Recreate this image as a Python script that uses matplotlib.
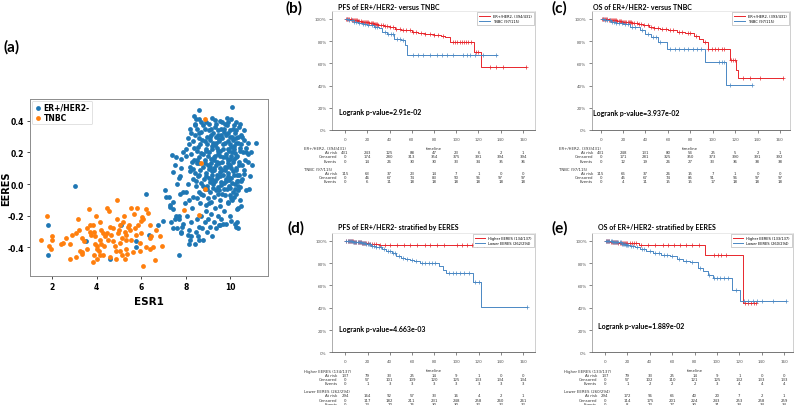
import numpy as np
import matplotlib
matplotlib.use("Agg")
import matplotlib.pyplot as plt

# ---------------- panel (a) : EERES vs ESR1 ----------------
er_pts = [
    # sparse points on the left
    (1.82, -0.26), (1.82, -0.45), (3.02, -0.01), (3.51, -0.36), (4.59, -0.47), (5.10, -0.26),
    (5.78, -0.36), (5.78, -0.40), (6.23, -0.06), (6.35, -0.32), (7.68, -0.45),
    # lower / outer fringe of the cluster
    (7.05, -0.04), (7.13, -0.08), (7.43, -0.11), (7.55, -0.20), (7.72, -0.22), (7.84, -0.27),
    (7.28, -0.145), (6.98, -0.23), (6.75, -0.26), (7.43, -0.28), (7.80, -0.31), (8.17, -0.38),
    (8.25, -0.33), (8.62, -0.35), (8.17, -0.29), (9.52, -0.26), (9.67, -0.25), (10.27, -0.27),
    (10.30, -0.24), (10.34, -0.15), (10.04, -0.23), (9.97, -0.07), (10.19, -0.08), (10.71, -0.04),
    (10.83, -0.03), (11.00, 0.12), (11.16, 0.26), (10.79, 0.26), (10.71, 0.20), (10.79, 0.14),
    (10.64, 0.065), (10.49, 0.02), (7.40, 0.185), (7.43, 0.075), (7.72, 0.04), (7.87, -0.05),
    (7.80, 0.16), (8.02, 0.22), (8.17, 0.255), (8.25, 0.32), (8.40, 0.37), (8.47, 0.41),
    (8.37, 0.43), (8.62, 0.47), (10.07, 0.486),
    (7.25, -0.08), (7.30, -0.13), (7.45, -0.16), (7.50, -0.22), (7.35, -0.24), (7.60, -0.28),
    (7.70, -0.20), (7.80, -0.30), (7.90, -0.25), (7.95, -0.12), (8.00, -0.05), (8.05, -0.20),
    (8.10, -0.32), (8.20, -0.35), (8.25, -0.24), (8.30, -0.15), (8.35, -0.08), (8.40, -0.38),
    (8.45, -0.30), (8.50, -0.22), (8.55, -0.33), (8.60, -0.27), (8.65, -0.12), (8.70, -0.20),
    (8.75, -0.28), (8.80, -0.35), (8.85, -0.24), (8.90, -0.17), (8.95, -0.30), (9.00, -0.22),
    (9.05, -0.12), (9.10, -0.27), (9.15, -0.19), (9.20, -0.33), (9.25, -0.24), (9.30, -0.15),
    (9.35, -0.28), (9.45, -0.20), (9.50, -0.26), (9.55, -0.14), (9.60, -0.22), (9.70, -0.17),
    (9.80, -0.25), (9.90, -0.12), (10.00, -0.20), (10.10, -0.10), (10.20, -0.25), (10.30, -0.16),
    (10.35, -0.28), (10.50, -0.14), (7.55, 0.17), (7.50, 0.12), (7.75, 0.05), (7.80, 0.10),
    (8.00, 0.18), (7.90, 0.20), (8.10, 0.00), (8.20, 0.08), (8.30, 0.14), (7.60, 0.00),
    (7.75, -0.06), (8.15, -0.10), (8.10, 0.29), (8.20, 0.35), (10.90, 0.05), (10.95, 0.20),
    # dense core
    (8.62, 0.41), (8.93, 0.39), (9.18, 0.42), (9.52, 0.40), (9.77, 0.38), (10.02, 0.41), (10.28, 0.39), (8.42, 0.38),
    (8.52, 0.35), (8.78, 0.37), (9.03, 0.34), (9.31, 0.36), (9.58, 0.35), (9.86, 0.37), (10.12, 0.35), (10.38, 0.36), (10.60, 0.34),
    (8.44, 0.31), (8.71, 0.33), (8.96, 0.30), (9.22, 0.32), (9.46, 0.31), (9.71, 0.33), (9.97, 0.30), (10.21, 0.32), (10.47, 0.31),
    (8.31, 0.27), (8.58, 0.29), (8.86, 0.27), (9.11, 0.28), (9.36, 0.26), (9.62, 0.29), (9.88, 0.27), (10.11, 0.28), (10.37, 0.26), (10.62, 0.28),
    (8.38, 0.23), (8.66, 0.25), (8.92, 0.22), (9.16, 0.24), (9.42, 0.23), (9.67, 0.25), (9.91, 0.22), (10.16, 0.24), (10.42, 0.23),
    (8.24, 0.19), (8.52, 0.21), (8.79, 0.19), (9.06, 0.20), (9.31, 0.18), (9.56, 0.21), (9.81, 0.19), (10.06, 0.20), (10.29, 0.18), (10.56, 0.20),
    (8.36, 0.15), (8.61, 0.17), (8.88, 0.15), (9.14, 0.16), (9.41, 0.14), (9.66, 0.17), (9.92, 0.15), (10.17, 0.16), (10.41, 0.14),
    (8.21, 0.11), (8.49, 0.13), (8.76, 0.11), (9.01, 0.12), (9.26, 0.10), (9.51, 0.13), (9.76, 0.11), (10.01, 0.12), (10.26, 0.10), (10.52, 0.12),
    (8.41, 0.07), (8.66, 0.09), (8.91, 0.07), (9.16, 0.08), (9.39, 0.06), (9.64, 0.09), (9.89, 0.07), (10.14, 0.08), (10.39, 0.06),
    (8.31, 0.03), (8.56, 0.05), (8.81, 0.03), (9.04, 0.04), (9.29, 0.02), (9.54, 0.05), (9.79, 0.03), (10.04, 0.04), (10.31, 0.02),
    (8.46, -0.01), (8.71, 0.01), (8.97, -0.01), (9.21, 0.00), (9.46, -0.02), (9.71, 0.01), (9.96, -0.01), (10.21, 0.00), (10.44, -0.02),
    (8.61, -0.05), (8.86, -0.03), (9.11, -0.05), (9.36, -0.04), (9.61, -0.06), (9.86, -0.03), (10.11, -0.05), (10.36, -0.04),
    (8.52, -0.09), (8.77, -0.07), (9.02, -0.09), (9.27, -0.08), (9.52, -0.10), (9.77, -0.07), (10.02, -0.09),
    (9.05, 0.38), (9.35, 0.38), (9.65, 0.39), (9.92, 0.39), (10.15, 0.37),
    (8.85, 0.345), (9.12, 0.35), (9.45, 0.34), (9.72, 0.35), (9.98, 0.34), (10.25, 0.34),
    (9.08, 0.30), (9.34, 0.30), (9.58, 0.31), (9.83, 0.31), (10.08, 0.30), (10.33, 0.30),
    (8.98, 0.255), (9.24, 0.26), (9.49, 0.27), (9.75, 0.26), (10.00, 0.25), (10.26, 0.26), (10.50, 0.25),
    (8.92, 0.21), (9.18, 0.22), (9.43, 0.21), (9.69, 0.22), (9.94, 0.21), (10.18, 0.22), (10.44, 0.21),
    (9.02, 0.175), (9.27, 0.17), (9.53, 0.18), (9.79, 0.17), (10.04, 0.18), (10.28, 0.17),
    (8.62, 0.13), (8.89, 0.13), (9.14, 0.135), (9.38, 0.12), (9.63, 0.14), (9.88, 0.13), (10.13, 0.14), (10.38, 0.12),
    (9.03, 0.095), (9.28, 0.09), (9.52, 0.10), (9.77, 0.09), (10.02, 0.10), (10.27, 0.09),
    (8.93, 0.05), (9.17, 0.055), (9.42, 0.04), (9.67, 0.06), (9.92, 0.05), (10.17, 0.055),
    (9.08, 0.015), (9.33, 0.02), (9.58, 0.015), (9.83, 0.02), (10.08, 0.01), (10.33, 0.02),
    (8.98, -0.03), (9.23, -0.025), (9.48, -0.035), (9.73, -0.03), (9.98, -0.025), (10.23, -0.03),
    (8.70, 0.395), (9.30, 0.405), (9.85, 0.42), (10.45, 0.38), (8.60, 0.325), (9.15, 0.31),
    (9.90, 0.325), (10.55, 0.30), (8.75, 0.28), (9.50, 0.285), (10.25, 0.29), (8.55, 0.235),
    (9.30, 0.245), (10.05, 0.235), (10.70, 0.23), (8.70, 0.195), (9.45, 0.19), (10.20, 0.195),
    (10.80, 0.19), (8.50, 0.155), (9.25, 0.15), (10.00, 0.16), (10.65, 0.15), (8.35, 0.095),
    (9.10, 0.105), (9.85, 0.11), (10.60, 0.09), (8.60, 0.06), (9.55, 0.075), (10.30, 0.06),
    (8.45, 0.02), (9.20, 0.03), (9.95, 0.025), (10.55, 0.03), (8.80, -0.015), (9.60, -0.005),
    (10.35, -0.01), (8.70, -0.06), (9.45, -0.065), (10.25, -0.065), (9.15, -0.11), (9.90, -0.11),
    (8.90, -0.13), (10.45, -0.10),
]

tnbc_pts = [
    (1.48, -0.35), (1.75, -0.20), (1.97, -0.33), (1.85, -0.39), (1.93, -0.41), (2.00, -0.35),
    (2.49, -0.37), (2.60, -0.34), (2.79, -0.38), (2.91, -0.32), (2.79, -0.47), (3.09, -0.46),
    (3.06, -0.31), (3.21, -0.29), (3.32, -0.43), (3.36, -0.44), (3.57, -0.28), (3.66, -0.16),
    (3.69, -0.26), (3.72, -0.32), (3.84, -0.26), (3.88, -0.30), (3.91, -0.33), (3.94, -0.38),
    (3.99, -0.41), (3.96, -0.20), (4.02, -0.39), (4.11, -0.42), (4.14, -0.35), (4.21, -0.29),
    (4.14, -0.24), (4.29, -0.31), (4.32, -0.39), (3.81, -0.49), (3.99, -0.47), (4.14, -0.45),
    (4.26, -0.45), (4.44, -0.31), (4.51, -0.35), (4.54, -0.17), (4.59, -0.27), (4.66, -0.32),
    (4.71, -0.36), (4.74, -0.28), (4.81, -0.39), (4.86, -0.42), (4.92, -0.10), (4.93, -0.22),
    (4.96, -0.31), (5.00, -0.29), (5.03, -0.26), (5.06, -0.37), (5.12, -0.34), (5.18, -0.24),
    (5.21, -0.20), (5.26, -0.30), (5.30, -0.35), (5.33, -0.32), (5.36, -0.44), (5.41, -0.27),
    (5.45, -0.26), (5.51, -0.29), (5.56, -0.35), (5.63, -0.43), (5.71, -0.28), (5.78, -0.32),
    (5.81, -0.15), (5.86, -0.26), (5.93, -0.37), (5.15, -0.45), (5.26, -0.47), (4.86, -0.47),
    (4.59, -0.46), (5.03, -0.42), (6.01, -0.31), (6.08, -0.22), (5.33, -0.41), (6.23, -0.16),
    (6.30, -0.18), (6.38, -0.26), (6.38, -0.34), (6.41, -0.41), (6.23, -0.40), (5.96, -0.42),
    (6.01, -0.23), (6.45, -0.33), (6.53, -0.40), (6.68, -0.29), (6.62, -0.48), (6.83, -0.33),
    (6.95, -0.39), (6.08, -0.52), (6.05, -0.21), (5.66, -0.19), (5.56, -0.15), (3.69, -0.30),
    (3.57, -0.41), (3.88, -0.45), (4.21, -0.38), (4.36, -0.33), (3.32, -0.34), (3.42, -0.36),
    (3.24, -0.42), (2.39, -0.38), (3.14, -0.22), (4.44, -0.15),
    (8.88, 0.41), (8.68, 0.135), (8.88, -0.034), (7.92, -0.166), (8.59, -0.194),
]

# ---------------- Kaplan-Meier curves (time in months, survival) ----------------
b_er_t = [0, 3, 6, 9, 12, 15, 18, 22, 26, 30, 35, 40, 45, 50, 55, 60, 66, 72, 80, 86, 90, 94, 116, 122]
b_er_s = [1.0, 0.995, 0.99, 0.985, 0.98, 0.975, 0.97, 0.96, 0.955, 0.945, 0.935, 0.925, 0.91, 0.90,
          0.895, 0.885, 0.875, 0.865, 0.855, 0.845, 0.835, 0.79, 0.705, 0.565]
b_er_end = 163
b_er_cens = [1, 2, 3, 4, 5, 6, 7, 8, 9, 10, 11, 12, 13, 14, 15, 16, 17, 18, 19, 20, 21, 22, 23, 24, 25,
             26, 27, 28, 29, 30, 32, 34, 36, 38, 40, 43, 46, 49, 52, 55, 58, 61, 64, 68, 72, 76, 80, 84,
             88, 97, 99, 101, 103, 105, 107, 109, 111, 113, 118, 120, 130, 136, 142, 163]
b_tn_t = [0, 4, 8, 12, 16, 20, 26, 31, 33, 38, 44, 50, 54, 56]
b_tn_s = [1.0, 0.985, 0.975, 0.965, 0.955, 0.94, 0.93, 0.915, 0.885, 0.86, 0.82, 0.81, 0.765, 0.67]
b_tn_end = 137
b_tn_cens = [2, 4, 6, 8, 10, 13, 16, 18, 21, 24, 27, 29, 36, 39, 41, 43, 47, 49, 52, 61, 66, 70.5,
             76.5, 82.5, 87, 91.5, 97.5, 106.5, 109.5, 112.5, 117, 124, 136]

c_er_t = [0, 3, 7, 11, 15, 19, 23, 28, 33, 38, 43, 48, 53, 60, 68, 75, 83, 88, 91, 96, 115, 121, 123]
c_er_s = [1.0, 0.995, 0.99, 0.985, 0.98, 0.975, 0.968, 0.96, 0.95, 0.94, 0.93, 0.915, 0.905, 0.895,
          0.885, 0.87, 0.845, 0.82, 0.79, 0.73, 0.627, 0.537, 0.47]
c_er_end = 163
c_er_cens = [1, 2, 3, 4, 5, 6, 7, 8, 9, 10, 11, 12, 13, 14, 15, 16, 17, 18, 19, 20, 21, 22, 23, 24, 25,
             26, 27, 28, 30, 32, 34, 36, 39, 42, 45, 48, 51, 55, 58, 62, 65, 70, 73, 78, 80, 85, 93,
             96, 99, 102, 105, 108, 110, 116, 118, 120, 127, 133, 142, 163]
c_tn_t = [0, 4, 9, 14, 20, 26, 35, 40, 45, 51, 59, 93, 112]
c_tn_s = [1.0, 0.985, 0.975, 0.965, 0.95, 0.925, 0.895, 0.86, 0.84, 0.79, 0.73, 0.61, 0.405]
c_tn_end = 135
c_tn_cens = [2, 4, 6, 8, 10, 12, 14, 16, 19, 22, 24, 28, 31, 37, 42, 47, 49, 53, 62, 66, 70, 74, 78,
             82, 86, 90, 106, 108, 110, 115, 135]

d_hi_t = [0, 8, 15, 22, 30]
d_hi_s = [1.0, 0.99, 0.98, 0.97, 0.963]
d_hi_end = 125
d_hi_cens = [1, 2, 3, 4, 5, 6, 7, 8, 9, 10, 11, 12, 13, 14, 15, 16, 17, 18, 19, 20, 22, 24, 26, 28,
             31.5, 36, 40.5, 46.5, 52.5, 58.5, 64.5, 72, 76.5, 82.5, 88.5, 100.5, 105, 109.5, 114,
             118.5, 125]
d_lo_t = [0, 3, 7, 11, 15, 19, 23, 28, 33, 37, 42, 46, 50, 54, 58, 62, 67, 84, 88, 91, 115, 122]
d_lo_s = [1.0, 0.995, 0.99, 0.985, 0.978, 0.97, 0.955, 0.94, 0.924, 0.905, 0.89, 0.865, 0.85, 0.84,
          0.825, 0.815, 0.803, 0.773, 0.736, 0.712, 0.627, 0.41]
d_lo_end = 164
d_lo_cens = [1, 2, 3, 4, 5, 6, 7, 8, 9, 10, 11, 12, 13, 14, 15, 16, 17, 18, 19, 20, 21, 22, 24, 26,
             28, 30, 32, 35, 38, 40, 43, 45, 48, 52, 56, 60, 64, 69, 72, 75, 78, 81, 93, 97, 100,
             103, 107, 111, 117, 120, 164]

e_hi_t = [0, 5, 12, 20, 30, 89, 123.5]
e_hi_s = [1.0, 0.99, 0.982, 0.976, 0.966, 0.873, 0.44]
e_hi_end = 135
e_hi_cens = [1, 2, 3, 4, 5, 6, 7, 8, 9, 10, 11, 12, 13, 14, 15, 16, 17, 18, 19, 20, 22, 24, 26, 28,
             32, 38, 45, 52, 56, 62, 67, 72, 78, 84, 97, 101, 104, 108, 125, 128, 130, 133, 135]
e_lo_t = [0, 3, 7, 11, 15, 19, 22, 27, 31, 37, 43, 50, 58, 64, 70, 76, 83, 87.5, 92, 96.7, 113, 120.5]
e_lo_s = [1.0, 0.995, 0.99, 0.985, 0.975, 0.965, 0.955, 0.94, 0.93, 0.91, 0.888, 0.875, 0.864,
          0.833, 0.822, 0.812, 0.758, 0.727, 0.697, 0.667, 0.56, 0.46]
e_lo_end = 162
e_lo_cens = [1, 2, 3, 4, 5, 6, 7, 8, 9, 10, 11, 12, 13, 14, 15, 16, 17, 18, 19, 20, 21, 23, 25, 29,
             33, 35, 40, 45, 48, 53, 55, 60, 66, 72, 78, 85, 93, 97, 100, 103, 106, 110, 117, 124,
             128, 132, 136, 140, 150, 162]

# ---------------- at-risk tables ----------------
table_times = [0, 20, 40, 60, 80, 100, 120, 140, 160]

b_groups = ["ER+/HER2- (394/431)", "TNBC (97/115)"]
b_risk = [[431, 243, 125, 88, 47, 23, 6, 2, 1], [115, 63, 37, 23, 14, 7, 1, 0, 0]]
b_cens = [[0, 174, 280, 313, 354, 375, 391, 394, 394], [0, 46, 67, 74, 83, 90, 96, 97, 97]]
b_evt = [[0, 14, 26, 30, 30, 33, 34, 35, 36], [0, 6, 11, 18, 18, 18, 18, 18, 18]]

c_groups = ["ER+/HER2- (393/431)", "TNBC (97/115)"]
c_risk = [[431, 248, 131, 80, 54, 25, 5, 2, 1], [115, 66, 37, 26, 15, 7, 1, 0, 0]]
c_cens = [[0, 171, 281, 325, 350, 373, 390, 391, 392], [0, 45, 67, 74, 85, 91, 96, 97, 97]]
c_evt = [[0, 12, 19, 26, 27, 33, 36, 38, 38], [0, 4, 11, 15, 15, 17, 18, 18, 18]]

d_groups = ["Higher EERES (134/137)", "Lower EERES (262/294)"]
d_risk = [[137, 79, 33, 25, 14, 9, 1, 0, 0], [294, 164, 92, 57, 33, 16, 4, 2, 1]]
d_cens = [[0, 57, 101, 109, 120, 125, 133, 134, 134], [0, 117, 182, 211, 231, 248, 258, 260, 261]]
d_evt = [[0, 1, 3, 3, 3, 3, 3, 3, 3], [0, 13, 20, 26, 30, 30, 32, 32, 32]]

e_groups = ["Higher EERES (133/137)", "Lower EERES (260/294)"]
e_risk = [[137, 79, 33, 25, 14, 9, 1, 0, 0], [294, 172, 96, 66, 40, 20, 7, 2, 1]]
e_cens = [[0, 57, 102, 110, 121, 125, 132, 133, 133], [0, 114, 175, 201, 224, 243, 253, 258, 259]]
e_evt = [[0, 1, 2, 2, 2, 3, 4, 4, 4], [0, 8, 23, 27, 30, 31, 34, 34, 34]]

RED = "#e8262c"
BLUE = "#4a88c4"
W, H = 796, 406
TITLE_FONT = ["Lato", "DejaVu Sans"]


def rect(left, top, right, bottom):
    # pixel box -> figure fraction
    return [left / W, 1 - bottom / H, (right - left) / W, (bottom - top) / H]


def fig_text(fig, x, y, s, **kw):
    fig.text(x / W, 1 - y / H, s, **kw)


def km_curve(ax, t, s, end, cens, color, label):
    t = np.array(t, dtype=float)
    s = np.array(s, dtype=float)
    ax.step(np.r_[t, end], np.r_[s, s[-1]], where="post", color=color, lw=0.7, label=label)
    cens = np.array(cens, dtype=float)
    cs = s[np.searchsorted(t, cens, side="right") - 1]
    ax.plot(cens, cs, "+", color=color, ms=3.2, mew=0.5)


def km_axes(ax, xlim, pval, pxy):
    ax.set_xlim(*xlim)
    ax.set_ylim(0, 1.07)
    ax.set_yticks([0, 0.2, 0.4, 0.6, 0.8, 1.0])
    ax.set_yticklabels(["0%", "20%", "40%", "60%", "80%", "100%"])
    ax.set_xticks(table_times)
    ax.tick_params(labelsize=3, length=2.5, width=0.5, colors="#555555", pad=1.5)
    ax.tick_params(axis="x", pad=2.5)
    ax.spines["top"].set_color("#e6e6e6")
    ax.spines["left"].set_color("#a0a0a0")
    ax.spines["right"].set_color("#c8c8c8")
    ax.spines["bottom"].set_color("#606060")
    for sp in ax.spines.values():
        sp.set_linewidth(0.6)
    ax.text(pxy[0], pxy[1], "Logrank p-value=" + pval, fontsize=5, fontweight="bold",
            family=TITLE_FONT, va="center", ha="left")
    leg = ax.legend(loc="upper right", fontsize=2.6, handlelength=3, borderpad=0.5,
                    borderaxespad=0.4, fancybox=False, edgecolor="#aaaaaa", framealpha=1,
                    labelspacing=0.3)
    leg.get_frame().set_linewidth(0.4)


def km_table(ax, groups, risk, cens, evt):
    tr = ax.get_xaxis_transform()
    h = 119.0  # axes height in px

    def put(x, off, s, ha="center"):
        ax.text(x, -off / h, s, transform=tr, fontsize=2.8, color="#333333",
                ha=ha, va="center", clip_on=False)

    put(80, 17.5, "timeline")
    starts = [18.3, 39.0]
    for g in range(2):
        y0 = starts[g]
        put(-37, y0, groups[g], ha="left")
        rows = [("At risk", risk[g]), ("Censored", cens[g]), ("Events", evt[g])]
        for i, (name, vals) in enumerate(rows):
            off = y0 + 4.0 + 4.2 * i
            put(-7, off, name, ha="right")
            for t, v in zip(table_times, vals):
                put(t, off, str(v))


fig = plt.figure(figsize=(W / 100, H / 100), dpi=100)

# ---- (a)
ax = fig.add_axes(rect(30, 100, 268, 277))
er = np.array(er_pts)
tn = np.array(tnbc_pts)
ax.scatter(er[:, 0], er[:, 1], s=12, color="#1f77b4", label="ER+/HER2-", linewidths=0)
ax.scatter(tn[:, 0], tn[:, 1], s=12, color="#ff7f0e", label="TNBC", linewidths=0)
ax.set_xlim(1.0, 11.7)
ax.set_ylim(-0.58, 0.537)
ax.set_xticks([2, 4, 6, 8, 10])
ax.set_yticks([-0.4, -0.2, 0.0, 0.2, 0.4])
ax.set_yticklabels(["-0.4", "-0.2", "0.0", "0.2", "0.4"])
ax.tick_params(labelsize=5.5, length=2, width=0.5, pad=2)
for lab in ax.get_xticklabels() + ax.get_yticklabels():
    lab.set_fontweight("bold")
for sp in ax.spines.values():
    sp.set_color("#8c8c8c")
    sp.set_linewidth(0.7)
ax.set_xlabel("ESR1", fontsize=7.5, fontweight="bold", labelpad=4)
ax.set_ylabel("EERES", fontsize=7, fontweight="bold")
ax.yaxis.set_label_coords(-0.078, 0.5)
leg = ax.legend(loc="upper left", prop={"weight": "bold", "size": 5.5},
                handletextpad=0.1, borderpad=0.3, labelspacing=0.15, borderaxespad=0.2,
                markerscale=1.0, handlelength=1.2, fancybox=True)
leg.get_frame().set_linewidth(0.5)
fig_text(fig, 3, 47, "(a)", fontsize=11, fontweight="bold", family=TITLE_FONT, va="center")

# ---- (b)
ax = fig.add_axes(rect(332, 12, 535, 131))
km_curve(ax, b_er_t, b_er_s, b_er_end, b_er_cens, RED, b_groups[0])
km_curve(ax, b_tn_t, b_tn_s, b_tn_end, b_tn_cens, BLUE, b_groups[1])
km_axes(ax, (-11.7, 170.8), "2.91e-02", (-5.4, 0.162))
km_table(ax, b_groups, b_risk, b_cens, b_evt)
fig_text(fig, 286, 8, "(b)", fontsize=11, fontweight="bold", family=TITLE_FONT, va="center")
fig_text(fig, 338, 7, "PFS of ER+/HER2- versus TNBC", fontsize=5, fontweight="bold",
         family=TITLE_FONT, va="center")

# ---- (c)
ax = fig.add_axes(rect(591.7, 12, 790, 131))
km_curve(ax, c_er_t, c_er_s, c_er_end, c_er_cens, RED, c_groups[0])
km_curve(ax, c_tn_t, c_tn_s, c_tn_end, c_tn_cens, BLUE, c_groups[1])
km_axes(ax, (-8.0, 169.0), "3.937e-02", (-6.6, 0.16))
km_table(ax, c_groups, c_risk, c_cens, c_evt)
fig_text(fig, 551, 8, "(c)", fontsize=11, fontweight="bold", family=TITLE_FONT, va="center")
fig_text(fig, 593, 7, "OS of ER+/HER2- versus TNBC", fontsize=5, fontweight="bold",
         family=TITLE_FONT, va="center")

# ---- (d)
ax = fig.add_axes(rect(332.3, 234, 535, 353.3))
km_curve(ax, d_hi_t, d_hi_s, d_hi_end, d_hi_cens, RED, d_groups[0])
km_curve(ax, d_lo_t, d_lo_s, d_lo_end, d_lo_cens, BLUE, d_groups[1])
km_axes(ax, (-11.7, 170.8), "4.663e-03", (-6.0, 0.209))
km_table(ax, d_groups, d_risk, d_cens, d_evt)
fig_text(fig, 287, 228, "(d)", fontsize=11, fontweight="bold", family=TITLE_FONT, va="center")
fig_text(fig, 338, 228, "PFS of ER+/HER2- stratified by EERES", fontsize=5, fontweight="bold",
         family=TITLE_FONT, va="center")

# ---- (e)
ax = fig.add_axes(rect(592.3, 234, 793, 353.3))
km_curve(ax, e_hi_t, e_hi_s, e_hi_end, e_hi_cens, RED, e_groups[0])
km_curve(ax, e_lo_t, e_lo_s, e_lo_end, e_lo_cens, BLUE, e_groups[1])
km_axes(ax, (-11.3, 167.9), "1.889e-02", (-6.0, 0.238))
km_table(ax, e_groups, e_risk, e_cens, e_evt)
fig_text(fig, 551, 228, "(e)", fontsize=11, fontweight="bold", family=TITLE_FONT, va="center")
fig_text(fig, 598, 228, "OS of ER+/HER2- stratified by EERES", fontsize=5, fontweight="bold",
         family=TITLE_FONT, va="center")

fig.savefig("out.png", dpi=100)
